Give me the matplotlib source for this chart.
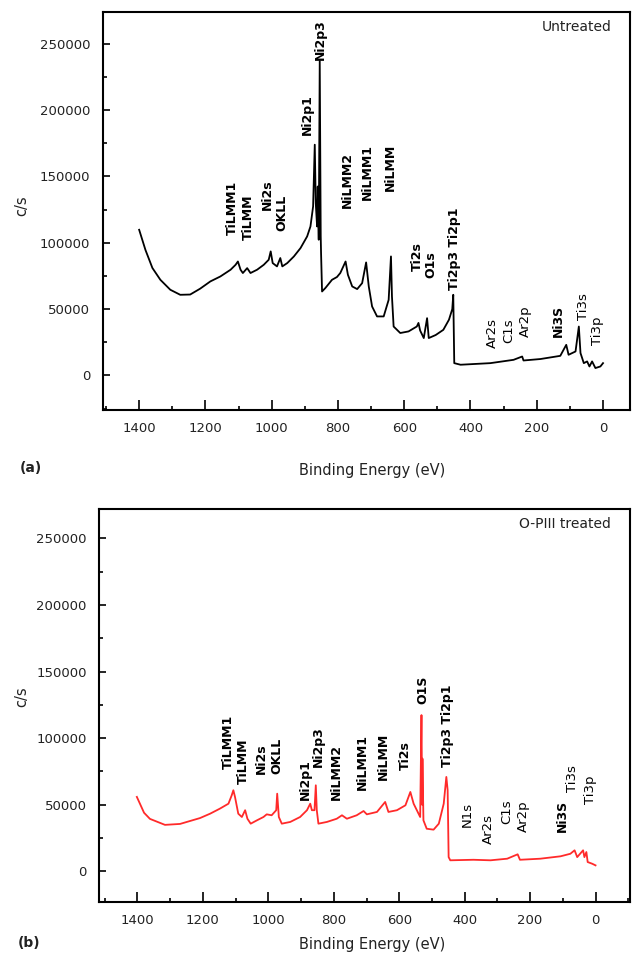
import matplotlib
matplotlib.use("Agg")
import matplotlib.pyplot as plt
from matplotlib.ticker import MultipleLocator

# untreated spectrum (binding energy eV, counts/s)
ev_a = [1400, 1381, 1360, 1336, 1306, 1276, 1246, 1216, 1185, 1155, 1124, 1109,
        1102, 1094, 1087, 1074, 1064, 1044, 1024, 1009, 1003, 997, 984, 974, 968,
        953, 933, 913, 893, 883, 875, 870, 867, 863, 861, 858, 855, 852, 851, 848,
        838, 818, 803, 793, 777, 770, 757, 742, 727, 715, 707, 697, 682, 662, 647,
        640, 637, 632, 612, 587, 562, 557, 552, 541, 531, 526, 505, 482, 465, 455,
        452, 449, 430, 340, 270, 244, 240, 189, 129, 111, 104, 83, 73, 68, 58, 48,
        41, 33, 23, 8, 0]
cps_a = [109800, 94600, 81000, 72100, 64600, 60800, 61000, 65400, 70900, 74600,
         79700, 83400, 85900, 79700, 77200, 80900, 77200, 79700, 83400, 87200,
         93500, 84700, 82200, 88500, 82200, 84700, 89700, 96000, 104800, 112300,
         127400, 173900, 129900, 112300, 142400, 102300, 237000, 104800, 92300,
         63300, 65900, 72100, 74200, 77200, 85900, 75900, 67100, 65100, 69600,
         85200, 67100, 52000, 44500, 44500, 57000, 89700, 59500, 36900, 32000,
         33200, 36900, 39600, 33900, 28200, 43200, 28200, 30500, 34400, 42000,
         50000, 60800, 9300, 8100, 9300, 11800, 14300, 11300, 12400, 14800, 23100,
         15600, 18100, 36900, 16900, 9300, 10600, 6800, 10600, 5600, 6800, 9300]

# O-PIII treated spectrum
ev_b = [1402, 1380, 1362, 1316, 1270, 1209, 1178, 1148, 1122, 1112, 1107, 1102,
        1092, 1081, 1071, 1064, 1054, 1035, 1015, 1005, 990, 976, 973, 968, 959,
        933, 903, 882, 872, 867, 859, 855, 852, 847, 821, 791, 775, 760, 730, 709,
        699, 668, 643, 633, 607, 581, 566, 556, 541, 536, 532, 530, 529, 526, 516,
        495, 479, 464, 456, 452, 449, 444, 373, 321, 270, 238, 231, 169, 107, 77,
        64, 56, 38, 34, 28, 24, 10, 0]
cps_b = [55900, 44000, 39400, 34900, 35600, 40000, 43300, 47100, 50800, 57100,
         60900, 55900, 43300, 40800, 45900, 39500, 35800, 38300, 40800, 42800,
         42100, 45900, 58300, 40800, 35800, 37100, 40800, 45900, 50800, 45900,
         45900, 64600, 45900, 35800, 37100, 39500, 42100, 39500, 42100, 45300,
         42800, 44600, 52100, 44600, 45900, 49600, 59600, 50800, 43300, 40800,
         117300, 50000, 84600, 38300, 32000, 31300, 35800, 50800, 70900, 60900,
         10700, 8300, 8700, 8300, 9500, 12800, 8700, 9500, 11300, 13200, 15800,
         10700, 15800, 10700, 14500, 7000, 5700, 4500]

# peak labels: text, energy, counts at text start, bold
labels_a = [("TiLMM1", 1119, 106000, True), ("TiLMM", 1069, 102300, True),
            ("Ni2s", 1014, 124900, True), ("OKLL", 968, 108500, True),
            ("Ni2p1", 891, 181400, True), ("Ni2p3", 853, 238000, True),
            ("NiLMM2", 772, 126400, True), ("NiLMM1", 712, 132400, True),
            ("NiLMM", 642, 138700, True), ("Ti2s", 560, 78900, True),
            ("O1s", 521, 73600, True), ("Ti2p3 Ti2p1", 449, 64600, True),
            ("Ar2s", 335, 20900, False), ("C1s", 285, 24600, False),
            ("Ar2p", 234, 29200, False), ("Ni3S", 134, 29200, True),
            ("Ti3s", 60, 42000, False), ("Ti3p", 18, 23100, False)]
labels_b = [("TiLMM1", 1122, 76900, True), ("TiLMM", 1076, 65600, True),
            ("Ni2s", 1020, 73100, True), ("OKLL", 974, 73100, True),
            ("Ni2p1", 888, 53600, True), ("Ni2p3", 847, 78400, True),
            ("NiLMM2", 791, 53600, True), ("NiLMM1", 714, 61100, True),
            ("NiLMM", 648, 68600, True), ("Ti2s", 582, 76100, True),
            ("O1S", 527, 125800, True), ("Ti2p3 Ti2p1", 452, 78400, True),
            ("N1s", 393, 33300, False), ("Ar2s", 327, 20500, False),
            ("C1s", 270, 35600, False), ("Ar2p", 221, 29500, False),
            ("Ni3S", 102, 29500, True), ("Ti3s", 71, 59600, False),
            ("Ti3p", 15, 50600, False)]

txt = "#222222"
W, H = 634, 964
fig = plt.figure(figsize=(W / 100, H / 100), dpi=100)
ax_a = fig.add_axes([0.162, 0.5747, 0.832, 0.413])
ax_b = fig.add_axes([0.1565, 1 - 902 / H, 0.837, 393 / H])


def style(ax, xlim, ylim, title):
    ax.set_xlim(*xlim)
    ax.set_ylim(*ylim)
    ax.xaxis.set_major_locator(MultipleLocator(200))
    ax.xaxis.set_minor_locator(MultipleLocator(100))
    ax.yaxis.set_major_locator(MultipleLocator(50000))
    ax.yaxis.set_minor_locator(MultipleLocator(25000))
    ax.tick_params(which="both", direction="in", top=False, right=False,
                   labelsize=9.5, labelcolor=txt, width=1.2)
    ax.tick_params(axis="x", which="major", length=7, pad=9)
    ax.tick_params(axis="x", which="minor", length=3)
    ax.tick_params(axis="y", which="major", length=5, pad=9)
    ax.tick_params(axis="y", which="minor", length=3)
    for s in ax.spines.values():
        s.set_linewidth(1.5)
    ax.text(0.965, 0.962, title, transform=ax.transAxes, ha="right", va="center",
            fontsize=10, color=txt)


def put_labels(ax, labels):
    for name, x, y, bold in labels:
        ax.text(x, y, name, rotation=90, ha="center", va="bottom",
                fontsize=9 if bold else 9.5,
                fontweight="bold" if bold else "normal", color="black")


ax_a.plot(ev_a, cps_a, color="black", lw=1.3)
style(ax_a, (1510, -82), (-26000, 274000), "Untreated")
put_labels(ax_a, labels_a)

ax_b.plot(ev_b, cps_b, color="#ff2a2a", lw=1.3)
style(ax_b, (1517, -105), (-23000, 272000), "O-PIII treated")
put_labels(ax_b, labels_b)

# axis titles and panel letters placed in figure pixels
for ylab_y, xlab_y, letter, lx, ly in [(206, 470, "(a)", 20, 468),
                                       (697, 945, "(b)", 18, 943)]:
    fig.text(22 / W, 1 - ylab_y / H, "c/s", rotation=90, fontsize=10.5,
             color=txt, ha="center", va="center")
    fig.text(372 / W, 1 - xlab_y / H, "Binding Energy (eV)", fontsize=10.5,
             color=txt, ha="center", va="center")
    fig.text(lx / W, 1 - ly / H, letter, fontsize=10, fontweight="bold",
             color=txt, ha="left", va="center")

fig.savefig("out.png", dpi=100)
